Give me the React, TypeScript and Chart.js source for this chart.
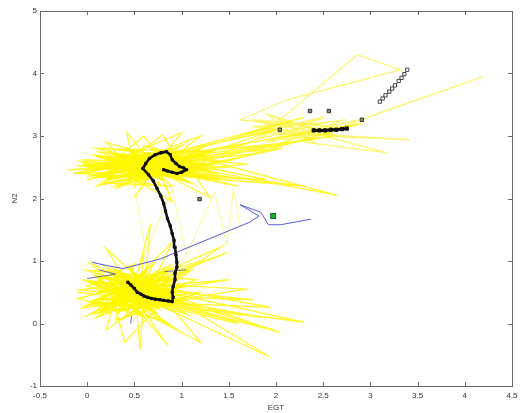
import React, { useEffect, useRef } from "react";
import { Chart, registerables } from "chart.js";
Chart.register(...registerables);

type P = [number, number];

const xTickValues = [-0.5, 0, 0.5, 1, 1.5, 2, 2.5, 3, 3.5, 4, 4.5];
const yTickValues = [-1, 0, 1, 2, 3, 4, 5];
const xTitle = "EGT";
const yTitle = "N2";

const yellowUpper: P[] = [
  [0.6, 2.5], [-0.2, 2.46], [0.7, 2.55], [0.42, 3.05], [0.5, 2.45], [1.5, 2.5], [0.3, 2.6], [-0.05, 2.62],
  [0.8, 2.4], [1.8, 2.72], [0.4, 2.5], [0.0, 2.35], [0.9, 2.6], [0.2, 2.9], [0.6, 2.3], [1.2, 3.0],
  [0.5, 2.6], [2.0, 3.1], [0.7, 2.45], [0.5, 2.02], [0.8, 2.62], [2.6, 3.0], [0.3, 2.45], [0.8, 3.02],
  [1.0, 2.5], [0.1, 2.2], [0.6, 2.7], [1.9, 2.3], [0.4, 2.4], [0.9, 1.95], [0.7, 2.65], [2.3, 3.3],
  [0.5, 2.5], [-0.1, 2.52], [1.1, 2.45], [1.3, 2.02], [0.6, 2.55], [1.7, 2.88], [0.2, 2.5], [0.6, 3.0],
  [0.9, 2.35], [2.9, 3.2], [0.4, 2.55], [1.6, 2.2], [0.7, 2.5], [0.1, 2.75], [1.0, 2.6], [1.4, 2.82],
  [0.5, 2.35], [0.3, 2.15], [0.8, 2.5], [2.2, 2.9], [0.35, 2.65], [1.0, 3.05], [0.65, 2.4], [1.5, 2.35],
  [0.45, 2.55], [0.05, 2.45], [0.9, 2.55], [2.65, 2.05], [1.25, 2.62], [0.55, 2.48], [0.15, 2.58],
  [2.3, 2.2], [0.75, 2.38], [1.35, 2.48], [0.35, 2.42], [0.85, 2.72], [0.25, 2.32], [1.15, 2.55],
  [0.6, 2.62], [-0.15, 2.4], [0.95, 2.45], [1.7, 2.55], [0.45, 2.7], [1.05, 2.28], [0.2, 2.55],
  [1.45, 2.68], [0.7, 2.35], [2.05, 2.8], [0.5, 2.58],
];

const upperCore: P[] = [
  [0.0, 2.5], [0.6, 2.7], [0.2, 2.4], [1.1, 2.6], [0.3, 2.7], [0.9, 2.35], [0.1, 2.55], [1.2, 2.5],
  [0.4, 2.35], [0.7, 2.72], [0.05, 2.45], [1.0, 2.68], [0.5, 2.4], [1.3, 2.55], [0.2, 2.65], [0.8, 2.3],
  [0.35, 2.58], [1.15, 2.4], [0.15, 2.35], [0.95, 2.75], [0.45, 2.5], [1.25, 2.7], [0.25, 2.48],
  [0.75, 2.6], [0.55, 2.32], [1.05, 2.52], [0.1, 2.68], [0.65, 2.45], [1.2, 2.35], [0.3, 2.52],
  [0.85, 2.65], [0.4, 2.62], [1.1, 2.45], [-0.05, 2.55], [0.6, 2.4], [0.9, 2.55], [0.2, 2.3],
  [0.7, 2.5], [0.5, 2.72], [1.0, 2.4],
];

const upperCoreWide: P[] = [
  [-0.1, 2.6], [1.4, 2.3], [0.1, 2.8], [1.3, 2.75], [0.0, 2.3], [1.0, 2.85], [0.3, 2.2], [1.4, 2.6],
  [0.2, 2.8], [0.8, 2.2], [-0.05, 2.4], [1.2, 2.8], [0.5, 2.2], [0.6, 2.85], [1.35, 2.4], [0.05, 2.7],
  [1.1, 2.25], [0.4, 2.82], [0.9, 2.2], [0.15, 2.25], [1.25, 2.45], [0.7, 2.82],
];

const yellowRight: P[] = [
  [1.4, 2.7], [2.1, 3.15], [1.7, 3.05], [2.7, 3.0], [1.9, 3.2], [2.5, 3.2], [1.8, 2.95], [2.86, 4.3],
  [3.32, 4.06], [2.12, 3.58], [1.62, 3.26], [2.6, 3.1], [4.19, 3.95], [2.89, 3.26], [2.2, 3.05],
  [3.42, 2.94], [2.5, 3.0], [3.18, 2.73], [2.3, 2.9], [1.9, 3.35], [2.4, 3.1], [2.0, 2.85], [2.7, 3.25],
  [1.85, 3.1], [2.45, 2.95],
];

const rightCore: P[] = [
  [1.7, 3.0], [2.5, 3.3], [1.9, 2.9], [2.6, 3.15], [1.8, 3.25], [2.4, 2.9], [2.0, 3.3], [2.65, 3.0],
  [1.75, 3.15], [2.3, 3.2], [2.1, 2.95], [2.55, 3.05],
];

const yellowBridge: P[] = [
  [0.5, 2.2], [0.62, 1.15], [0.9, 2.15], [1.05, 1.1], [1.35, 2.1], [1.48, 1.25], [1.55, 2.15], [1.62, 1.55],
];

const yellowLower: P[] = [
  [0.5, 0.5], [-0.04, 0.1], [0.6, 0.55], [0.03, 0.97], [0.4, 0.45], [1.76, 0.38], [0.3, 0.6], [-0.08, 0.54],
  [0.7, 0.4], [2.04, -0.14], [0.5, 0.65], [0.56, -0.42], [0.6, 0.45], [0.67, 1.6], [0.45, 0.35], [1.94, 0.26],
  [0.35, 0.7], [0.2, -0.1], [0.8, 0.5], [1.94, -0.54], [0.4, 0.55], [1.41, 1.22], [0.55, 0.3], [0.0, 0.3],
  [0.7, 0.6], [1.2, -0.3], [0.3, 0.4], [0.9, 1.3], [0.6, 0.35], [1.6, 0.0], [0.45, 0.6], [0.2, 1.2],
  [0.75, 0.45], [1.97, -0.1], [0.5, 0.42], [0.85, -0.35], [0.35, 0.55], [1.5, 0.7], [0.65, 0.5], [0.1, 0.8],
  [0.55, 0.58], [1.3, 0.2], [0.25, 0.5], [0.4, -0.3], [0.8, 0.35], [1.7, 0.55], [0.4, 0.65], [1.2, 1.0],
  [0.6, 0.42], [-0.05, 0.7], [0.7, 0.55], [2.3, 0.02], [0.5, 0.38], [1.0, -0.15], [0.3, 0.5], [1.48, 1.13],
  [0.6, 0.6], [0.15, 0.2], [0.75, 0.3], [1.85, 0.1], [0.45, 0.48], [0.6, 1.1], [0.55, 0.5],
];

const lowerCore: P[] = [
  [0.1, 0.5], [0.8, 0.7], [0.2, 0.3], [0.9, 0.45], [0.3, 0.85], [0.7, 0.2], [0.05, 0.65], [1.0, 0.6],
  [0.35, 0.2], [0.6, 0.8], [0.15, 0.4], [0.85, 0.3], [0.4, 0.75], [0.55, 0.15], [0.1, 0.75], [0.95, 0.5],
  [0.25, 0.55], [0.75, 0.25], [0.45, 0.9], [0.65, 0.35], [0.2, 0.65], [0.9, 0.7], [0.3, 0.35], [0.5, 0.6],
  [0.15, 0.2], [0.8, 0.55], [0.35, 0.45], [0.7, 0.75], [0.05, 0.35], [0.6, 0.25], [0.4, 0.6], [1.0, 0.35],
  [0.25, 0.8], [0.55, 0.4], [0.85, 0.85], [0.2, 0.45], [0.65, 0.65], [0.45, 0.25], [0.75, 0.5], [0.3, 0.65],
];

const lowerCoreWide: P[] = [
  [-0.1, 0.5], [1.1, 0.3], [0.0, 0.85], [1.15, 0.7], [0.1, 0.1], [0.9, 0.95], [-0.05, 0.25], [1.2, 0.5],
  [0.3, 0.05], [0.5, 0.95], [0.0, 0.6], [1.05, 0.15], [0.2, 0.9], [0.8, 0.05], [-0.1, 0.4], [1.1, 0.85],
  [0.4, 0.1], [0.7, 0.95], [0.05, 0.15], [1.15, 0.4],
];

const bluePath: P[] = [
  [0.05, 0.98], [0.2, 0.93], [0.38, 0.88], [0.77, 1.03], [1.72, 1.62], [1.82, 1.72], [1.62, 1.9],
  [1.84, 1.78], [1.92, 1.58], [2.05, 1.58], [2.37, 1.67],
];

const grayBitsA: P[] = [[0.0, 0.72], [0.3, 0.79], [0.12, 0.86]];
const grayBitsB: P[] = [[0.47, 0.12], [0.46, 0.0]];
const grayBitsC: P[] = [[0.82, 0.83], [1.05, 0.86]];

const blackPath: P[] = [
  [0.43, 0.66], [0.46, 0.62], [0.5, 0.56], [0.53, 0.5], [0.57, 0.47], [0.6, 0.44], [0.64, 0.42],
  [0.68, 0.4], [0.72, 0.39], [0.77, 0.38], [0.81, 0.37], [0.86, 0.36], [0.9, 0.35], [0.91, 0.42],
  [0.9, 0.5], [0.91, 0.59], [0.93, 0.7], [0.93, 0.8], [0.95, 0.9], [0.95, 0.98], [0.94, 1.1],
  [0.93, 1.22], [0.92, 1.33], [0.9, 1.44], [0.88, 1.56], [0.85, 1.68], [0.83, 1.8], [0.81, 1.92],
  [0.78, 2.04], [0.74, 2.16], [0.7, 2.28], [0.65, 2.38], [0.59, 2.48], [0.62, 2.56], [0.66, 2.64],
  [0.72, 2.7], [0.78, 2.73], [0.84, 2.75], [0.88, 2.7], [0.9, 2.62], [0.94, 2.56], [0.98, 2.51],
  [1.02, 2.49], [1.05, 2.46], [1.0, 2.42], [0.95, 2.4], [0.9, 2.42], [0.85, 2.44], [0.81, 2.46],
];

const trailPath: P[] = [
  [3.1, 3.55], [3.13, 3.6], [3.16, 3.65], [3.2, 3.71], [3.23, 3.76], [3.26, 3.81], [3.3, 3.88],
  [3.33, 3.93], [3.36, 3.99], [3.39, 4.06],
];

const clusterPath: P[] = [
  [2.4, 3.09], [2.46, 3.09], [2.52, 3.09], [2.58, 3.1], [2.64, 3.1], [2.7, 3.11], [2.75, 3.12],
];

const lonePoints: P[] = [[1.19, 1.99], [2.04, 3.1], [2.36, 3.4], [2.56, 3.4], [2.91, 3.26]];
const greenPoint: P[] = [[1.97, 1.72]];

const toXY = (arr: P[]) => arr.map(([x, y]) => ({ x, y }));

const YELLOW_SPIKE = "rgba(255,246,0,0.8)";
const YELLOW_CORE = "rgb(255,250,0)";

function lineSet(data: P[], color: string, width: number, order: number) {
  return {
    data: toXY(data),
    showLine: true,
    borderColor: color,
    borderWidth: width,
    pointRadius: 0,
    fill: false,
    order,
  };
}

const boxPlugin = {
  id: "matlabBox",
  afterDraw(chart: any) {
    const { ctx, chartArea: a, scales } = chart;
    ctx.save();
    ctx.strokeStyle = "#6a6a6a";
    ctx.lineWidth = 1;
    ctx.strokeRect(Math.round(a.left) + 0.5, Math.round(a.top) + 0.5, Math.round(a.right - a.left), Math.round(a.bottom - a.top));
    ctx.beginPath();
    const tl = 4;
    xTickValues.forEach((v) => {
      const px = Math.round(scales.x.getPixelForValue(v)) + 0.5;
      ctx.moveTo(px, a.bottom);
      ctx.lineTo(px, a.bottom - tl);
      ctx.moveTo(px, a.top);
      ctx.lineTo(px, a.top + tl);
    });
    yTickValues.forEach((v) => {
      const py = Math.round(scales.y.getPixelForValue(v)) + 0.5;
      ctx.moveTo(a.left, py);
      ctx.lineTo(a.left + tl, py);
      ctx.moveTo(a.right, py);
      ctx.lineTo(a.right - tl, py);
    });
    ctx.stroke();
    ctx.restore();
  },
};

export default function App() {
  const ref = useRef<HTMLCanvasElement | null>(null);
  useEffect(() => {
    document.body.style.margin = "0";
    const canvas = ref.current!;
    const font = { family: "'Liberation Sans', Arial, sans-serif", size: 8 };
    const chart = new Chart(canvas, {
      type: "scatter",
      data: {
        datasets: [
          { ...lineSet(upperCore, YELLOW_CORE, 2.4, 11) },
          { ...lineSet(upperCoreWide, "rgba(255,248,20,0.85)", 1.6, 11) },
          { ...lineSet(lowerCore, YELLOW_CORE, 2.4, 11) },
          { ...lineSet(lowerCoreWide, "rgba(255,248,20,0.85)", 1.6, 11) },
          { ...lineSet(rightCore, "rgba(252,246,90,0.8)", 2, 11) },
          { ...lineSet(yellowUpper, YELLOW_SPIKE, 1.3, 10) },
          { ...lineSet(yellowRight, "rgba(250,244,90,0.85)", 1.3, 10) },
          { ...lineSet(yellowBridge, "rgba(250,246,100,0.7)", 1, 10) },
          { ...lineSet(yellowLower, YELLOW_SPIKE, 1.3, 10) },
          { ...lineSet(bluePath, "rgb(90,90,220)", 1, 6) },
          { ...lineSet(grayBitsA, "rgb(110,110,150)", 1, 6) },
          { ...lineSet(grayBitsB, "rgb(110,110,150)", 1, 6) },
          { ...lineSet(grayBitsC, "rgb(110,110,150)", 1, 6) },
          {
            data: toXY(blackPath),
            showLine: true,
            borderColor: "#111",
            borderWidth: 2.6,
            pointStyle: "rect",
            pointRadius: 1.6,
            pointBackgroundColor: "#111",
            pointBorderColor: "#111",
            pointBorderWidth: 1,
            order: 2,
          },
          {
            data: toXY(trailPath),
            showLine: true,
            borderColor: "#555",
            borderWidth: 1,
            pointStyle: "rect",
            pointRadius: 2.3,
            pointBackgroundColor: "#fff",
            pointBorderColor: "#444",
            pointBorderWidth: 1,
            order: 2,
          },
          {
            data: toXY(clusterPath),
            showLine: true,
            borderColor: "#111",
            borderWidth: 3,
            pointStyle: "rect",
            pointRadius: 2.3,
            pointBackgroundColor: "#111",
            pointBorderColor: "#111",
            pointBorderWidth: 1,
            order: 2,
          },
          {
            data: toXY(lonePoints),
            showLine: false,
            pointStyle: "rect",
            pointRadius: 2.4,
            pointBackgroundColor: "#888",
            pointBorderColor: "#333",
            pointBorderWidth: 1,
            order: 2,
          },
          {
            data: toXY(greenPoint),
            showLine: false,
            pointStyle: "rect",
            pointRadius: 3.5,
            pointBackgroundColor: "#1fae3a",
            pointBorderColor: "#145a22",
            pointBorderWidth: 1,
            order: 1,
          },
        ],
      },
      options: {
        animation: false,
        responsive: false,
        layout: { padding: { left: 10, right: 15, top: 11, bottom: 0 } },
        plugins: { legend: { display: false }, tooltip: { enabled: false } },
        scales: {
          x: {
            type: "linear",
            min: -0.5,
            max: 4.5,
            afterBuildTicks: (s: any) => {
              s.ticks = xTickValues.map((v) => ({ value: v }));
            },
            afterFit: (s: any) => {
              s.height = 27;
            },
            grid: { display: false, drawTicks: false },
            border: { display: false },
            ticks: {
              autoSkip: false,
              maxRotation: 0,
              padding: 5,
              color: "#333",
              font,
              callback: (v: any) => String(v),
            },
            title: { display: true, text: xTitle, color: "#333", font, padding: 0 },
          },
          y: {
            type: "linear",
            min: -1,
            max: 5,
            afterBuildTicks: (s: any) => {
              s.ticks = yTickValues.map((v) => ({ value: v }));
            },
            afterFit: (s: any) => {
              s.width = 30;
            },
            grid: { display: false, drawTicks: false },
            border: { display: false },
            ticks: {
              autoSkip: false,
              padding: 3,
              color: "#333",
              font,
              callback: (v: any) => String(v),
            },
            title: { display: true, text: yTitle, color: "#333", font, padding: 0 },
          },
        },
      },
      plugins: [boxPlugin],
    } as any);
    return () => chart.destroy();
  }, []);
  return (
    <div style={{ position: "absolute", left: 0, top: 0, width: 527, height: 413, background: "#fff" }}>
      <canvas ref={ref} width={527} height={413} style={{ display: "block" }} />
    </div>
  );
}
